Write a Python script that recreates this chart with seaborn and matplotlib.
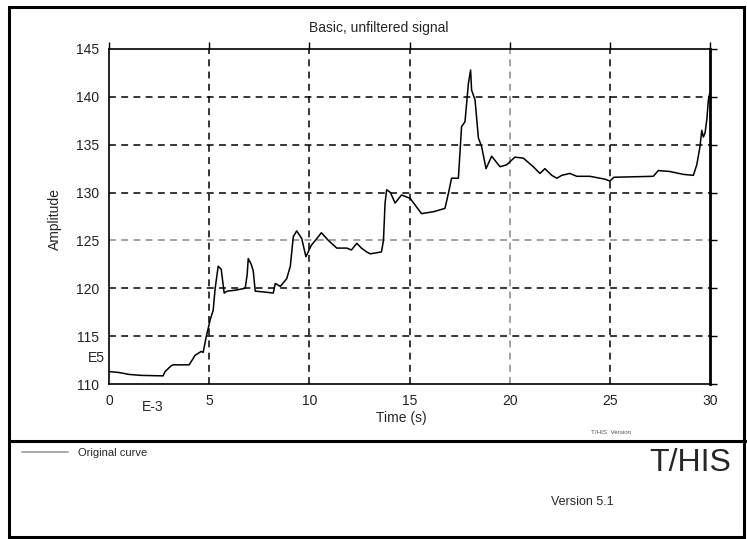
import matplotlib
matplotlib.use("Agg")
import matplotlib.pyplot as plt
import seaborn as sns
import pandas as pd
from matplotlib.patches import Rectangle
from matplotlib.lines import Line2D

time_s = [0, 0.5, 1.0, 1.6, 2.7, 2.8, 3.1, 3.2, 4.0, 4.3, 4.6, 4.7, 4.85, 5.05, 5.2, 5.3,
          5.45, 5.6, 5.75, 5.9, 6.3, 6.8, 6.9, 6.95, 7.1, 7.2, 7.3, 7.8, 8.2, 8.3, 8.55,
          8.87, 9.05, 9.2, 9.37, 9.62, 9.83, 10.1, 10.3, 10.6, 10.95, 11.37, 11.87, 12.1,
          12.37, 12.6, 12.86, 13.05, 13.6, 13.7, 13.78, 13.86, 14.05, 14.28, 14.6, 15.03,
          15.6, 16.2, 16.77, 16.94, 17.1, 17.44, 17.6, 17.77, 17.94, 18.05, 18.1, 18.27,
          18.44, 18.6, 18.82, 19.1, 19.52, 19.85, 20.26, 20.68, 21.18, 21.51, 21.76, 22.1,
          22.35, 22.6, 23.0, 23.35, 24.0, 24.76, 25.0, 25.2, 27.17, 27.42, 28.0, 28.67,
          29.17, 29.34, 29.5, 29.59, 29.67, 29.75, 29.84, 29.92, 30.0]
amplitude = [111.3, 111.2, 111.0, 110.9, 110.85, 111.3, 111.9, 112.0, 112.0, 113.0, 113.4,
             113.3, 114.9, 116.7, 117.7, 120.0, 122.3, 122.0, 119.5, 119.7, 119.8, 120.0,
             121.5, 123.1, 122.5, 121.8, 119.7, 119.6, 119.5, 120.5, 120.2, 121.0, 122.3,
             125.4, 126.0, 125.2, 123.3, 124.5, 125.0, 125.8, 125.0, 124.2, 124.2, 124.0,
             124.7, 124.2, 123.8, 123.6, 123.8, 125.0, 128.9, 130.3, 130.0, 128.9, 129.75,
             129.4, 127.8, 128.0, 128.35, 129.9, 131.5, 131.5, 136.9, 137.4, 141.4, 142.8,
             140.7, 139.7, 135.7, 134.8, 132.5, 133.8, 132.7, 132.9, 133.7, 133.6, 132.7,
             132.0, 132.5, 131.8, 131.5, 131.8, 132.0, 131.7, 131.7, 131.4, 131.2, 131.6,
             131.7, 132.3, 132.2, 131.9, 131.8, 132.9, 134.8, 136.5, 135.8, 136.2, 137.6,
             139.7, 140.5]
x_ticks = [0, 5, 10, 15, 20, 25, 30]
y_ticks = [110, 115, 120, 125, 130, 135, 140, 145]

sns.set_style("white")
plt.rcParams['font.family'] = ['Liberation Sans', 'DejaVu Sans']

W, H = 747, 539
fig = plt.figure(figsize=(W / 100, H / 100), dpi=100)
ax = fig.add_axes([109 / W, 1 - 384 / H, (710 - 109) / W, (384 - 49) / H])

df = pd.DataFrame({"Time": time_s, "Amplitude": amplitude})
sns.lineplot(data=df, x="Time", y="Amplitude", ax=ax, color="black", linewidth=1.1,
             estimator=None, sort=False, zorder=5)

ax.set_xlim(0, 30)
ax.set_ylim(110, 145)
ax.set_xticks(x_ticks)
ax.set_yticks(y_ticks)
ax.set_xticklabels([str(v) for v in x_ticks], fontsize=10)
ax.set_yticklabels([str(v) for v in y_ticks], fontsize=10)
ax.set_xlabel("")
ax.set_ylabel("")
ax.tick_params(axis="both", direction="out", length=5, width=1, color="black", pad=2,
               top=True, right=True, labelcolor="#222222")
for s in ax.spines.values():
    s.set_visible(True)
    s.set_color("black")
    s.set_linewidth(1.2)
ax.spines["right"].set_linewidth(2)

grid_kw = dict(linestyle=(0, (4.5, 3.5)), linewidth=1.1, zorder=1)
for xv in x_ticks[1:-1]:
    ax.axvline(xv, color="#888888" if xv == 20 else "black", **grid_kw)
for yv in y_ticks[1:-1]:
    ax.axhline(yv, color="#888888" if yv == 125 else "black", **grid_kw)

fig.text(379 / W, 1 - 28 / H, "Basic, unfiltered signal", ha="center", va="center", fontsize=10)
fig.text(55 / W, 1 - 219 / H, "Amplitude", ha="center", va="center", rotation=90, fontsize=10)
fig.text(401 / W, 1 - 418 / H, "Time (s)", ha="center", va="center", fontsize=10)
fig.text(96 / W, 1 - 358 / H, "E5", ha="center", va="center", fontsize=10)
fig.text(153 / W, 1 - 407 / H, "E-3", ha="center", va="center", fontsize=10)
fig.text(611 / W, 1 - 433 / H, "T/HIS  Version", ha="center", va="center", fontsize=4.5,
         color="#555555")

# frame and separator
fig.add_artist(Rectangle((8.5 / W, 1 - 537 / H), (744 - 8.5) / W, (537 - 7) / H,
                         transform=fig.transFigure, fill=False, edgecolor="black",
                         linewidth=2.2))
fig.add_artist(Line2D([8.5 / W, 1.0], [1 - 441 / H, 1 - 441 / H], transform=fig.transFigure,
                      color="black", linewidth=2.2))

# legend area
fig.add_artist(Line2D([22 / W, 68 / W], [1 - 452 / H, 1 - 452 / H], transform=fig.transFigure,
                      color="#999999", linewidth=1.2))
fig.text(78 / W, 1 - 453 / H, "Original curve", ha="left", va="center", fontsize=8)
fig.text(731 / W, 1 - 463 / H, "T/HIS", ha="right", va="center", fontsize=23)
fig.text(582 / W, 1 - 502 / H, "Version 5.1", ha="center", va="center", fontsize=9)

fig.savefig("out.png", dpi=100)
